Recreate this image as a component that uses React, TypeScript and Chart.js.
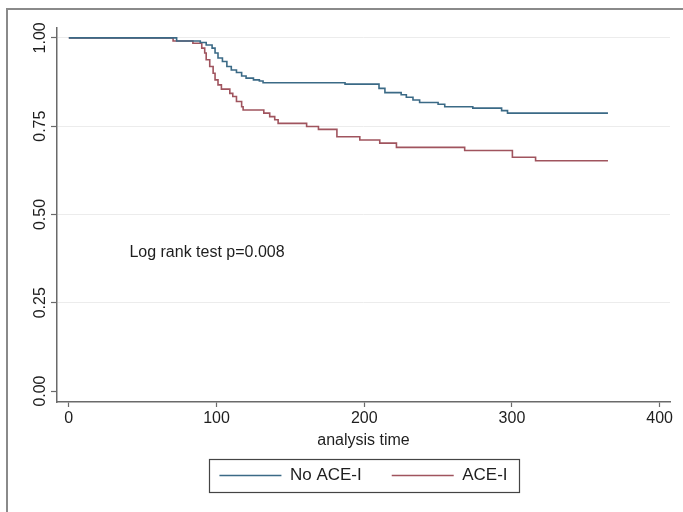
import React, { useEffect, useRef } from 'react';
import { Chart, registerables } from 'chart.js';

Chart.register(...registerables);

// Kaplan-Meier step data
const noAceTime = [0, 73, 89, 93, 97, 99, 101, 104, 107, 110, 113.5, 117, 120, 125, 129, 131.5, 187, 210, 214, 225, 228.5, 233, 237.5, 250, 254.5, 273.5, 293, 297, 365];
const noAceSurv = [1, 0.991, 0.987, 0.98, 0.971, 0.957, 0.943, 0.933, 0.919, 0.909, 0.902, 0.892, 0.886, 0.881, 0.878, 0.873, 0.869, 0.857, 0.845, 0.839, 0.832, 0.824, 0.817, 0.812, 0.805, 0.801, 0.794, 0.787, 0.787];

const aceTime = [0, 70.6, 84, 90, 92, 93, 95.4, 97.7, 99, 101, 103.3, 109, 111, 113.5, 117, 118, 132, 136, 139.4, 141.7, 161, 169, 181.5, 197, 210.5, 221.8, 268, 300.3, 316, 365];
const aceSurv = [1, 0.991, 0.985, 0.971, 0.957, 0.938, 0.919, 0.9, 0.881, 0.867, 0.855, 0.843, 0.834, 0.82, 0.805, 0.796, 0.787, 0.777, 0.768, 0.758, 0.749, 0.741, 0.72, 0.711, 0.702, 0.69, 0.681, 0.662, 0.652, 0.652];

const seriesLabels = ['No ACE-I', 'ACE-I'];
const xTicks = [0, 100, 200, 300, 400];
const yTicks = [0, 0.25, 0.5, 0.75, 1];
const xTitle = 'analysis time';
const noteText = 'Log rank test p=0.008';
const noteAt = { x: 41, y: 0.38 };

const FONT = '"Liberation Sans", Arial, Helvetica, sans-serif';
const BLUE = '#3b6a86';
const RED = '#a0545e';
const AXIS = '#6a6a6a';
const TEXT = '#1e1e1e';

const toPoints = (xs: number[], ys: number[]) => xs.map((x, i) => ({ x, y: ys[i] }));

const legendBoxPlugin = {
  id: 'legendBox',
  afterDraw(chart: any) {
    const lg = chart.legend;
    if (!lg || !lg.legendHitBoxes || !lg.legendHitBoxes.length) return;
    const hb = lg.legendHitBoxes;
    const first = hb[0];
    const last = hb[hb.length - 1];
    const left = first.left - 10;
    const right = last.left + last.width + 12;
    const top = first.top - 8;
    const bottom = first.top + first.height + 8;
    const ctx = chart.ctx;
    ctx.save();
    ctx.strokeStyle = '#444';
    ctx.lineWidth = 1.2;
    ctx.strokeRect(Math.round(left) + 0.5, Math.round(top) + 0.5, Math.round(right - left), Math.round(bottom - top));
    ctx.restore();
  },
};

const notePlugin = {
  id: 'note',
  afterDatasetsDraw(chart: any) {
    const { ctx, scales } = chart;
    const px = scales.x.getPixelForValue(noteAt.x);
    const py = scales.y.getPixelForValue(noteAt.y);
    ctx.save();
    ctx.font = `16px ${FONT}`;
    ctx.fillStyle = TEXT;
    ctx.textAlign = 'left';
    ctx.textBaseline = 'alphabetic';
    ctx.fillText(noteText, px, py);
    ctx.restore();
  },
};

export default function App() {
  const canvasRef = useRef<HTMLCanvasElement | null>(null);

  useEffect(() => {
    if (!canvasRef.current) return;
    Chart.defaults.font.family = FONT;
    Chart.defaults.font.size = 16;
    Chart.defaults.color = TEXT;

    const chart = new Chart(canvasRef.current, {
      type: 'line',
      data: {
        datasets: [
          {
            label: seriesLabels[0],
            data: toPoints(noAceTime, noAceSurv),
            borderColor: BLUE,
            backgroundColor: BLUE,
            borderWidth: 1.6,
            pointRadius: 0,
            stepped: 'before',
            fill: false,
          },
          {
            label: seriesLabels[1],
            data: toPoints(aceTime, aceSurv),
            borderColor: RED,
            backgroundColor: RED,
            borderWidth: 1.6,
            pointRadius: 0,
            stepped: 'before',
            fill: false,
          },
        ],
      },
      options: {
        animation: false,
        responsive: true,
        maintainAspectRatio: false,
        layout: { padding: { left: 0, top: 28, right: 13, bottom: 18 } },
        plugins: {
          tooltip: { enabled: false },
          legend: {
            display: true,
            position: 'bottom',
            fullSize: false,
            labels: {
              usePointStyle: true,
              pointStyle: 'line',
              pointStyleWidth: 62,
              padding: 30,
              color: TEXT,
              font: { size: 17, family: FONT },
            },
          },
        },
        scales: {
          x: {
            type: 'linear',
            min: -8,
            max: 407,
            afterBuildTicks: (s: any) => {
              s.ticks = xTicks.map((v) => ({ value: v }));
            },
            afterFit: (s: any) => {
              s.height = 35;
            },
            ticks: { padding: 2, color: TEXT, font: { size: 16 }, maxRotation: 0 },
            grid: { drawOnChartArea: false, drawTicks: true, tickLength: 5, tickColor: AXIS, tickWidth: 1.2 },
            border: { color: AXIS, width: 1.5 },
            title: {
              display: true,
              text: xTitle,
              color: TEXT,
              font: { size: 16 },
              padding: { top: 0, bottom: -13.5 },
            },
          },
          y: {
            type: 'linear',
            min: -0.031,
            max: 1.028,
            afterBuildTicks: (s: any) => {
              s.ticks = yTicks.map((v) => ({ value: v }));
            },
            afterFit: (s: any) => {
              s.width = 57;
            },
            ticks: {
              minRotation: 90,
              maxRotation: 90,
              crossAlign: 'center',
              padding: -5,
              color: TEXT,
              font: { size: 16 },
              callback: (v: any) => Number(v).toFixed(2),
            },
            grid: {
              drawTicks: true,
              tickLength: 6,
              tickColor: AXIS,
              tickWidth: 1.2,
              color: (c: any) => (c.tick && c.tick.value === 0 ? 'rgba(0,0,0,0)' : '#ececec'),
              lineWidth: 1,
            },
            border: { color: AXIS, width: 1.5 },
          },
        },
      },
      plugins: [legendBoxPlugin, notePlugin],
    } as any);

    return () => chart.destroy();
  }, []);

  return (
    <>
      <div
        style={{
          position: 'fixed',
          left: 6,
          top: 8,
          width: 720,
          height: 540,
          border: '2px solid #8a8a8a',
          boxSizing: 'border-box',
          pointerEvents: 'none',
        }}
      />
      <div style={{ position: 'fixed', left: 0, top: 0, width: 683, height: 512 }}>
        <canvas ref={canvasRef} />
      </div>
    </>
  );
}
